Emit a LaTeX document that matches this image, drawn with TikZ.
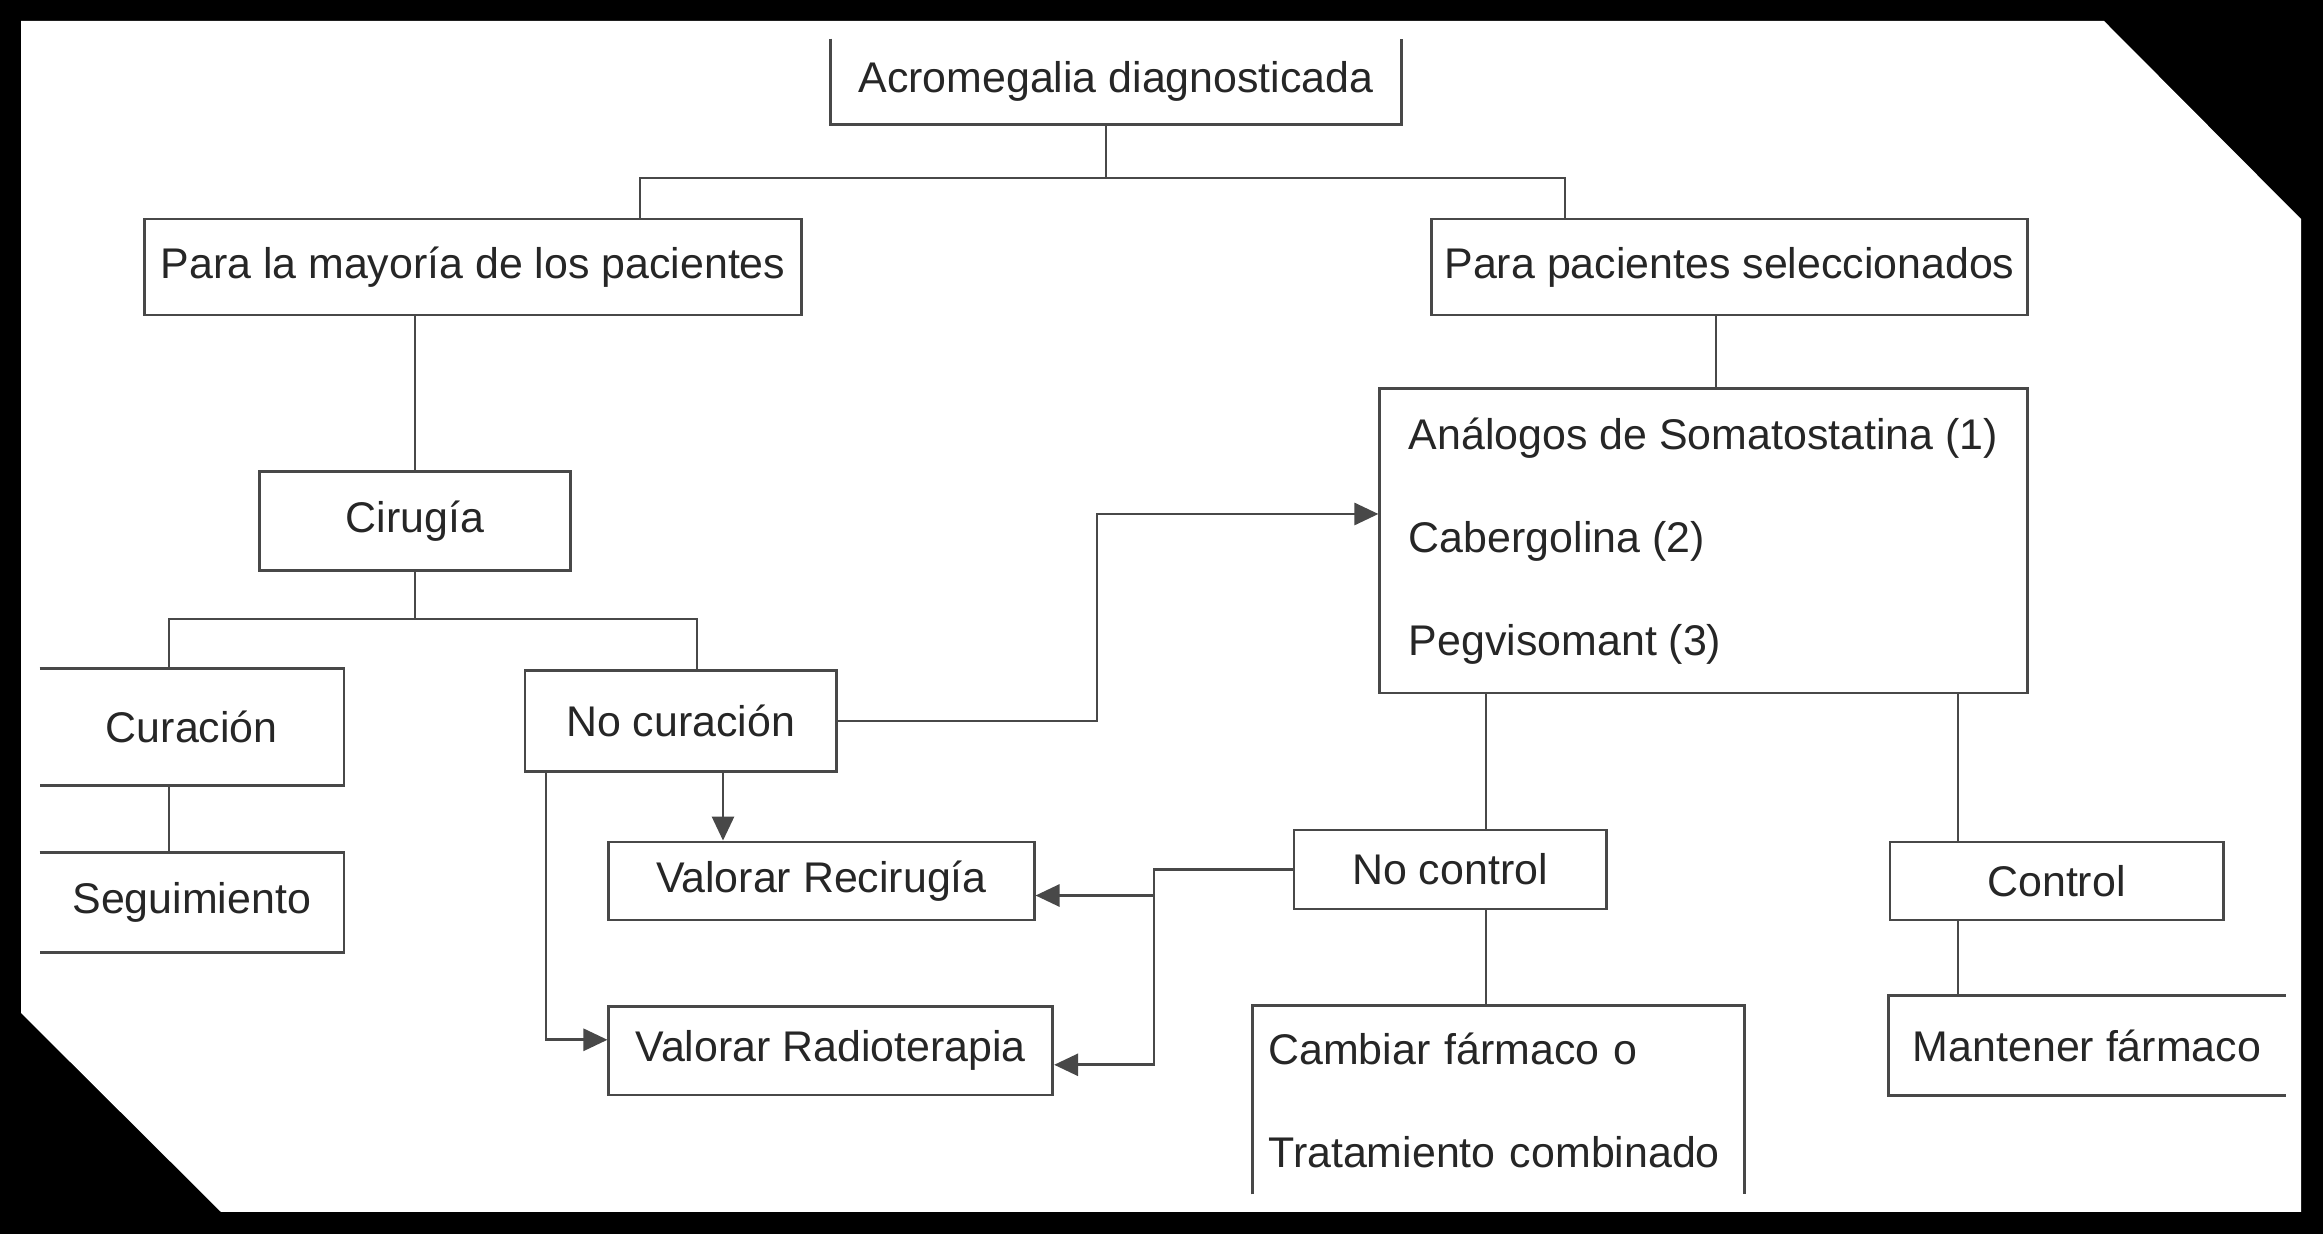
\documentclass[tikz,border=0pt]{standalone}
\usepackage{fontspec}
\setmainfont{Liberation Sans}
\usetikzlibrary{arrows.meta}

\definecolor{linegray}{RGB}{72,72,72}
\definecolor{textgray}{RGB}{38,38,38}

\begin{document}
\begin{tikzpicture}[
    x=0.01cm, y=-0.01cm,
    box/.style={
        rectangle,
        draw=linegray,
        inner sep=0pt,
        align=center
    },
    openbox/.style={
        rectangle,
        inner sep=0pt,
        align=center
    },
    link/.style={draw=linegray, line width=0.8pt},
    >={Triangle[length=2.4mm, width=2.2mm]},
    every node/.style={font=\fontsize{12.2}{14.6}\selectfont, text=textgray, line width=0.8pt}
]

% frame
\fill[black] (0,0) rectangle (2323,1234);
\fill[white] (21,21) -- (2104,21) -- (2301,219) -- (2301,1212) -- (221,1212) -- (21,1013) -- cycle;
\useasboundingbox (0,0) rectangle (2323,1234);

\node[openbox, minimum width=5.68cm, minimum height=0.83cm] (acro) at (1116,81.5) {Acromegalia diagnosticada};
\node[box, minimum width=6.57cm, minimum height=0.96cm] (mayoria) at (473,267) {Para la mayoría de los pacientes};
\node[box, minimum width=5.95cm, minimum height=0.96cm] (selec) at (1729.5,267) {Para pacientes seleccionados};
\node[box, minimum width=3.11cm, minimum height=0.99cm] (cirugia) at (415,521) {Cirugía};
\node[box, minimum width=6.47cm, minimum height=3.04cm, align=left, font=\fontsize{12.2}{29.2}\selectfont] (farmacos) at (1703.5,541) {Análogos de Somatostatina (1)\\Cabergolina (2)\\Pegvisomant (3)};
\node[openbox, minimum width=3.015cm, minimum height=1.135cm] (curacion) at (191.75,727) {Curación};
\node[box, minimum width=3.11cm, minimum height=1.005cm] (nocura) at (680.5,721) {No curación};
\node[openbox, minimum width=3.015cm, minimum height=0.97cm] (seguim) at (191.75,902.5) {Seguimiento};
\node[box, minimum width=4.25cm, minimum height=0.78cm] (recirugia) at (821.5,881) {Valorar Recirugía};
\node[box, minimum width=4.436cm, minimum height=0.884cm] (radio) at (830.8,1050.8) {Valorar Radioterapia};
\node[box, minimum width=3.12cm, minimum height=0.79cm] (nocontrol) at (1450,869.5) {No control};
\node[box, minimum width=3.33cm, minimum height=0.78cm] (control) at (2056.5,881) {Control};
\node[openbox, text width=4.6cm, inner xsep=0.145cm, minimum height=1.86cm, align=left, font=\fontsize{12.2}{29.3}\selectfont] (cambiar) at (1498.5,1100) {Cambiar fármaco o\\Tratamiento combinado};
\node[openbox, minimum width=3.94cm, minimum height=0.97cm] (mantener) at (2087,1045.5) {Mantener fármaco};

% open sided boxes
\draw[link] (acro.north west) -- (acro.south west) -- (acro.south east) -- (acro.north east);
\draw[link] (curacion.north west) -- (curacion.north east) -- (curacion.south east) -- (curacion.south west);
\draw[link] (seguim.north west) -- (seguim.north east) -- (seguim.south east) -- (seguim.south west);
\draw[link] (cambiar.south west) -- (cambiar.north west) -- (cambiar.north east) -- (cambiar.south east);
\draw[link] (mantener.north east) -- (mantener.north west) -- (mantener.south west) -- (mantener.south east);

\coordinate (jtop) at (1106,178);
\coordinate (jl) at (640,178);
\coordinate (jr) at (1565,178);
\coordinate (jcl) at (169,619);
\coordinate (jcr) at (697,619);
\coordinate (bend) at (1097,514);
\coordinate (split) at (1154,0);
\coordinate (sx) at (1716,0);
\coordinate (nr) at (723,0);
\coordinate (nd) at (546,0);
\coordinate (ncx) at (1486,0);
\coordinate (cx) at (1958,0);
\coordinate (rr) at ([yshift=-0.145cm]recirugia.east);
\coordinate (ra) at ([yshift=-0.14cm]radio.east);

\draw[link] (acro.south -| jtop) -- (jtop);
\draw[link] (mayoria.north -| jl) -- (jl) -- (jr) -- (selec.north -| jr);
\draw[link] (cirugia.north |- mayoria.south) -- (cirugia.north);
\draw[link] (cirugia.south) -- (cirugia.south |- jcl);
\draw[link] (curacion.north -| jcl) -- (jcl) -- (jcr) -- (nocura.north -| jcr);
\draw[link] (curacion.south -| jcl) -- (seguim.north -| jcl);
\draw[link, ->] (nocura.south -| nr) -- (recirugia.north -| nr);
\draw[link, ->] (nocura.south -| nd) |- ([yshift=0.11cm]radio.west);
\draw[link, ->] (nocura.east) -| (bend) -- (bend -| farmacos.west);
\draw[link] (selec.south -| sx) -- (farmacos.north -| sx);
\draw[link] (farmacos.south -| ncx) -- (nocontrol.north -| ncx);
\draw[link] (nocontrol.south -| ncx) -- (cambiar.north -| ncx);
\draw[link] (farmacos.south -| cx) -- (control.north -| cx);
\draw[link] (control.south -| cx) -- (mantener.north -| cx);
\draw[link, ->] (nocontrol.west) -| (split |- ra) -- (ra);
\draw[link, ->] (split |- rr) -- (rr);

\end{tikzpicture}
\end{document}
